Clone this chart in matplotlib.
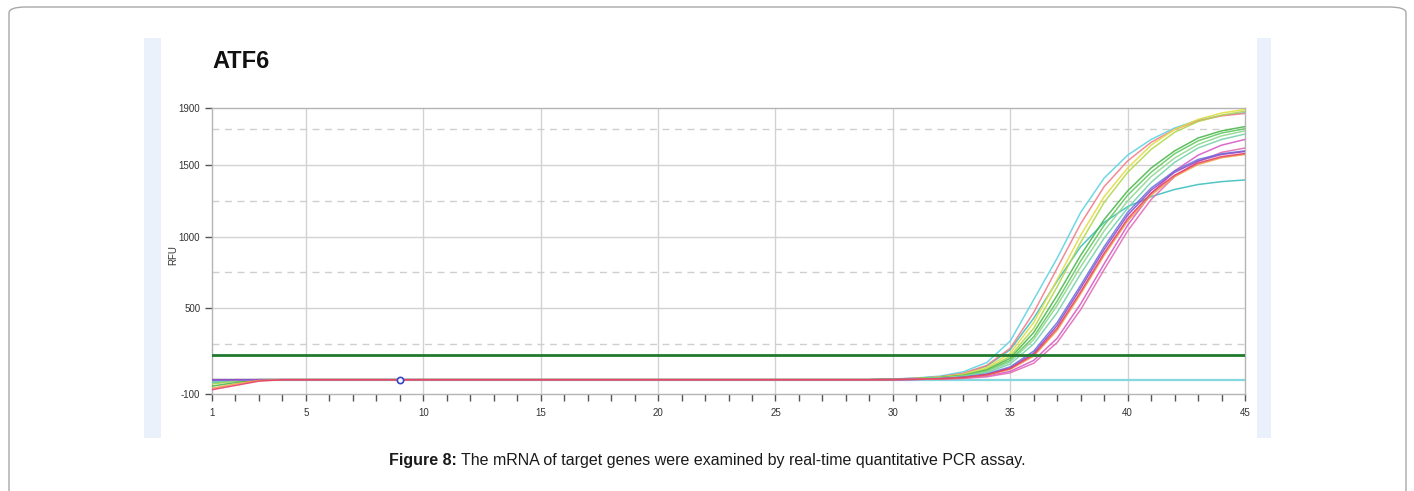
import numpy as np
import matplotlib
matplotlib.use("Agg")
import matplotlib.pyplot as plt
from matplotlib.patches import FancyBboxPatch, Rectangle

# ---- amplification data (RFU per cycle) ----
cycles = np.arange(1, 46)
TAIL_START = 30  # readings below are listed for cycles 30..45; flat at 0 before

cyan_head = [-20, -8, 0]
cyan_tail = [5, 12, 25, 55, 120, 270, 560, 850, 1170, 1410, 1570, 1680, 1760, 1815, 1848, 1868]
salmon_head = [-10, -3, 0]
salmon_tail = [4, 10, 20, 45, 100, 220, 470, 780, 1090, 1350, 1530, 1660, 1750, 1810, 1845, 1862]
yellow_head = [0]
yellow_tail = [3, 8, 18, 38, 85, 185, 400, 700, 1010, 1280, 1480, 1640, 1750, 1820, 1865, 1890]
ygreen_head = [-30, -10, 0]
ygreen_tail = [3, 7, 15, 32, 75, 165, 360, 650, 960, 1240, 1450, 1610, 1730, 1805, 1850, 1878]
greenA_head = [-45, -20, 0]
greenA_tail = [3, 7, 15, 30, 68, 150, 330, 590, 870, 1120, 1320, 1480, 1600, 1690, 1740, 1770]
greenB_head = [0]
greenB_tail = [2, 6, 13, 27, 60, 135, 300, 550, 830, 1080, 1290, 1450, 1580, 1670, 1725, 1755]
lgreen_head = [0]
lgreen_tail = [2, 6, 12, 25, 55, 125, 280, 520, 790, 1040, 1250, 1420, 1550, 1645, 1705, 1740]
mint_head = [-15, -5, 0]
mint_tail = [2, 5, 10, 22, 48, 110, 250, 470, 740, 990, 1200, 1380, 1520, 1620, 1680, 1718]
teal_head = [-25, -8, 0]
teal_tail = [4, 9, 19, 42, 95, 210, 430, 690, 930, 1100, 1210, 1280, 1330, 1365, 1385, 1397]
blue_head = [-5, 0]
blue_tail = [1, 3, 8, 18, 40, 90, 200, 400, 660, 930, 1170, 1340, 1460, 1540, 1580, 1600]
purple_head = [0]
purple_tail = [1, 3, 7, 16, 36, 82, 185, 380, 640, 910, 1150, 1325, 1450, 1530, 1575, 1596]
red_head = [-70, -40, -10, 0]
red_tail = [1, 3, 7, 15, 34, 78, 175, 360, 615, 885, 1125, 1305, 1430, 1515, 1560, 1582]
orange_head = [-60, -30, -5, 0]
orange_tail = [1, 3, 6, 14, 32, 72, 165, 345, 600, 870, 1110, 1290, 1420, 1505, 1552, 1575]
magenta_head = [0]
magenta_tail = [0, 2, 5, 11, 25, 58, 135, 290, 530, 810, 1080, 1300, 1460, 1570, 1640, 1680]
pink_head = [0]
pink_tail = [0, 2, 4, 9, 20, 48, 115, 260, 490, 770, 1040, 1260, 1420, 1525, 1590, 1620]
ntc_values = [0] * 45

threshold = 171
marker_cycle, marker_rfu = 9, 0

y_ticks = [-100, 500, 1000, 1500, 1900]
y_solid = [500, 1000, 1500]
y_dashed = [250, 750, 1250, 1750]
x_labels = [1, 5, 10, 15, 20, 25, 30, 35, 40, 45]
x_grid = [5, 10, 15, 20, 25, 30, 35, 40]

wells = [
    (cyan_head, cyan_tail, "#5fd3e3"),
    (teal_head, teal_tail, "#3fbfbf"),
    (salmon_head, salmon_tail, "#f27d8c"),
    (yellow_head, yellow_tail, "#e4dc46"),
    (ygreen_head, ygreen_tail, "#b3d84c"),
    (greenA_head, greenA_tail, "#4cb84c"),
    (greenB_head, greenB_tail, "#64c864"),
    (lgreen_head, lgreen_tail, "#90d890"),
    (mint_head, mint_tail, "#78d2ac"),
    (magenta_head, magenta_tail, "#d65cc8"),
    (pink_head, pink_tail, "#e46cb8"),
    (blue_head, blue_tail, "#6a78e0"),
    (purple_head, purple_tail, "#9050c8"),
    (orange_head, orange_tail, "#f0a048"),
    (red_head, red_tail, "#e8406a"),
]


def build_series(head, tail):
    flat = np.zeros(TAIL_START - 1 - len(head))
    return np.concatenate([head, flat, tail])


W, H = 1414, 491
fig = plt.figure(figsize=(W / 100, H / 100), dpi=100)
fig.patch.set_facecolor("white")

# page frame
fig.add_artist(FancyBboxPatch((9 / W, -0.05), (1406 - 9) / W, (H - 7) / H + 0.05,
                              boxstyle="round,pad=0,rounding_size=0.012",
                              transform=fig.transFigure, facecolor="none",
                              edgecolor="#a8a8a8", linewidth=1.0, zorder=0))
# light panel strips of the chart image
for x0, x1 in [(144, 161), (1257, 1271)]:
    fig.add_artist(Rectangle((x0 / W, 1 - 438 / H), (x1 - x0) / W, 400 / H,
                             transform=fig.transFigure, facecolor="#ebf1fa",
                             edgecolor="none", zorder=0))

ax = fig.add_axes([212 / W, 1 - 394 / H, (1245 - 212) / W, (394 - 108) / H])
ax.set_xlim(1, 45)
ax.set_ylim(-100, 1900)

for g in x_grid:
    ax.axvline(g, color="#d2d2d2", lw=1.0, zorder=1)
for g in y_solid:
    ax.axhline(g, color="#d2d2d2", lw=1.0, zorder=1)
for g in y_dashed:
    ax.axhline(g, color="#cfcfcf", lw=1.0, ls=(0, (5, 4)), zorder=1)

ax.plot(cycles, ntc_values, color="#86d8e0", lw=1.6, zorder=2)
for head, tail, col in wells:
    ax.plot(cycles, build_series(head, tail), color=col, lw=1.1, alpha=0.9, zorder=3)

ax.axhline(threshold, color="#1f7a2e", lw=2.0, zorder=4)
ax.plot([marker_cycle], [marker_rfu], marker="o", ms=4.5, mfc="white",
        mec="#3346c8", mew=1.2, zorder=5)

for s in ax.spines.values():
    s.set_color("#b4b4b4")
    s.set_linewidth(1.0)

ax.set_yticks(y_ticks)
ax.set_yticklabels([str(v) for v in y_ticks])
ax.set_xticks(x_labels)
ax.set_xticklabels([str(v) for v in x_labels])
ax.set_xticks(cycles, minor=True)
ax.tick_params(axis="both", which="both", direction="out", length=5, width=1.0,
               color="#555555", labelsize=7, labelcolor="#333333")
ax.tick_params(axis="x", which="major", pad=5)
for lab in ax.get_xticklabels() + ax.get_yticklabels():
    lab.set_family("Liberation Sans")

fig.text(173 / W, 1 - 255 / H, "RFU", rotation=90, ha="center", va="center",
         fontsize=7, color="#333333", family="Liberation Sans")
fig.text(212 / W, 1 - 62 / H, "ATF6", ha="left", va="center", fontsize=17,
         fontweight="bold", color="#111111", family="Liberation Sans")

# caption: bold lead-in followed by regular text, centred as one line
cap_y = 1 - 460 / H
t1 = fig.text(0, cap_y, "Figure 8:", fontsize=11.5, fontweight="bold",
              va="center", ha="left", color="#1a1a1a", family="Liberation Sans")
t2 = fig.text(0, cap_y, "The mRNA of target genes were examined by real-time quantitative PCR assay.",
              fontsize=11.5, va="center", ha="left", color="#1a1a1a", family="Liberation Sans")
fig.canvas.draw()
r = fig.canvas.get_renderer()
w1 = t1.get_window_extent(r).width
w2 = t2.get_window_extent(r).width
gap = 4
x0 = 707 - (w1 + gap + w2) / 2
t1.set_x(x0 / W)
t2.set_x((x0 + w1 + gap) / W)

fig.savefig("out.png", dpi=100, facecolor="white")
